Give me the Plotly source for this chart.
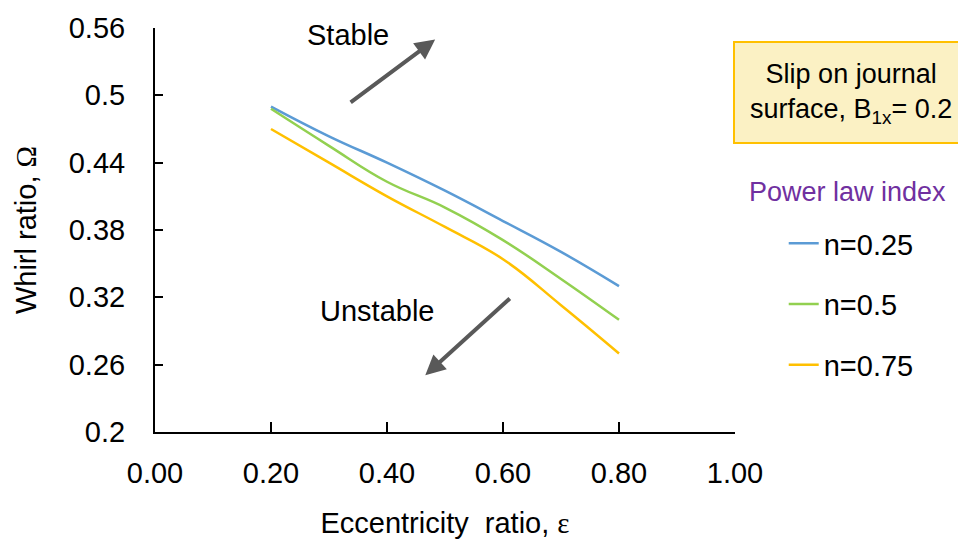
import plotly.graph_objects as go

# Data
eccentricity = [0.2, 0.3, 0.4, 0.5, 0.6, 0.7, 0.8]
whirl_n025 = [0.490, 0.4635, 0.440, 0.415, 0.388, 0.3605, 0.330]
whirl_n05 = [0.488, 0.455, 0.423, 0.400, 0.371, 0.3364, 0.300]
whirl_n075 = [0.470, 0.440, 0.410, 0.3827, 0.354, 0.313, 0.270]
series_names = ["n=0.25", "n=0.5", "n=0.75"]
series_colors = ["#5B9BD5", "#92D050", "#FFC000"]

x_tickvals = [0.0, 0.2, 0.4, 0.6, 0.8, 1.0]
x_ticktext = ["0.00", "0.20", "0.40", "0.60", "0.80", "1.00"]
y_tickvals = [0.2, 0.26, 0.32, 0.38, 0.44, 0.5, 0.56]
y_ticktext = ["0.2", "0.26", "0.32", "0.38", "0.44", "0.5", "0.56"]

FONT = "Liberation Sans, Arial, sans-serif"
SERIF = "Liberation Serif, Times New Roman, serif"

fig = go.Figure()
for i, (name, ys, col) in enumerate(zip(series_names, [whirl_n025, whirl_n05, whirl_n075], series_colors)):
    fig.add_trace(go.Scatter(
        x=eccentricity, y=ys, mode="lines", name=name,
        line=dict(color=col, width=2.5, shape="spline", smoothing=1.2),
        legendgroup=f"g{i}",
    ))

fig.update_layout(
    width=958, height=546,
    margin=dict(l=155, r=223, t=26, b=113),
    paper_bgcolor="white", plot_bgcolor="white",
    font=dict(family=FONT, size=29, color="black"),
    showlegend=True,
    legend=dict(
        x=1.084, y=0.53, xanchor="left", yanchor="top",
        font=dict(family=FONT, size=29, color="black"),
        traceorder="grouped", tracegroupgap=20,
        bgcolor="rgba(0,0,0,0)",
    ),
    xaxis=dict(
        range=[0, 1], tickvals=x_tickvals, ticktext=x_ticktext,
        showgrid=False, zeroline=False,
        showline=True, linecolor="black", linewidth=2,
        ticks="inside", ticklen=10, tickwidth=2, tickcolor="black",
        ticklabelstandoff=14,
        tickfont=dict(family=FONT, size=29),
        title=dict(text="Eccentricity  ratio, <span style='font-family:" + SERIF + "'>ε</span>",
                   font=dict(family=FONT, size=29), standoff=25),
    ),
    yaxis=dict(
        range=[0.2, 0.56], tickvals=y_tickvals, ticktext=y_ticktext,
        showgrid=False, zeroline=False,
        showline=True, linecolor="black", linewidth=2,
        ticks="inside", ticklen=8, tickwidth=2, tickcolor="black",
        ticklabelstandoff=22,
        tickfont=dict(family=FONT, size=29),
        title=dict(text="Whirl ratio, <span style='font-family:" + SERIF + "'>Ω</span>",
                   font=dict(family=FONT, size=29), standoff=24),
    ),
)

def px_x(p):
    return (p - 155) / 580

def px_y(p):
    return (433.3 - p) / 407.3

# Stable / Unstable labels with arrows
fig.add_annotation(x=0.483, y=0.5498, xref="x", yref="y", ax=-86, ay=64,
                   showarrow=True, arrowhead=2, arrowsize=1, arrowwidth=4,
                   arrowcolor="#595959", text="")
fig.add_annotation(x=0.466, y=0.2506, xref="x", yref="y", ax=86, ay=-78,
                   showarrow=True, arrowhead=2, arrowsize=1, arrowwidth=4,
                   arrowcolor="#595959", text="")
fig.add_annotation(x=px_x(348), y=px_y(33), xref="paper", yref="paper",
                   xanchor="center", yanchor="middle",
                   text="Stable", showarrow=False, font=dict(family=FONT, size=29))
fig.add_annotation(x=px_x(377), y=px_y(311), xref="paper", yref="paper",
                   xanchor="center", yanchor="middle",
                   text="Unstable", showarrow=False, font=dict(family=FONT, size=29))

# Info box
fig.add_shape(type="rect", xref="paper", yref="paper",
              x0=px_x(734), x1=px_x(968), y0=px_y(142), y1=px_y(40),
              fillcolor="#FBF1C4", line=dict(color="#FFC000", width=2), layer="below")
fig.add_annotation(x=px_x(851), y=px_y(92), xref="paper", yref="paper",
                   xanchor="center", yanchor="middle",
                   text="Slip on journal<br>surface, B<sub>1x</sub>= 0.2", showarrow=False,
                   font=dict(family=FONT, size=27, color="black"))
fig.add_annotation(x=px_x(848), y=px_y(191), xref="paper", yref="paper",
                   xanchor="center", yanchor="middle",
                   text="Power law index", showarrow=False,
                   font=dict(family=FONT, size=27, color="#7030A0"))

fig.write_html("out.html")
